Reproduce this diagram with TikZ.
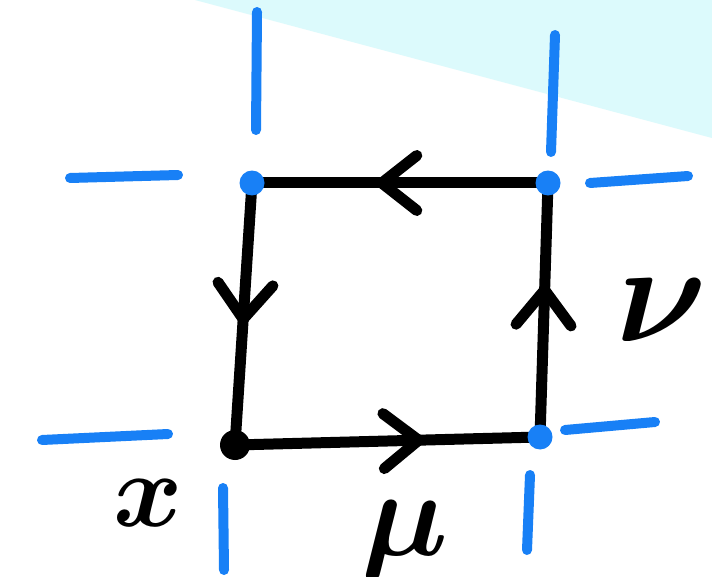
\documentclass[tikz,border=0pt]{standalone}
\usepackage{amsmath}
\usetikzlibrary{arrows.meta,decorations.markings}
\definecolor{stubblue}{RGB}{24,128,246}
\definecolor{skycyan}{RGB}{220,250,252}

\begin{document}
\begin{tikzpicture}[
  x=0.02cm, y=-0.02cm,
  stub/.style={draw=stubblue, line width=0.2cm, line cap=round},
  link/.style={draw, line width=0.22cm, line cap=round, postaction={decorate},
    decoration={markings, mark=at position #1 with
      {\arrow[line width=0.22cm]{Straight Barb[round,length=0.7cm,width=1.1cm]}}}},
  site/.style={circle, fill=stubblue, inner sep=0pt, minimum size=0.5cm},
  lbl/.style={font=\boldmath, inner sep=0pt, scale=#1},
  lbl/.default=6
]
  % background
  \useasboundingbox (0,0) rectangle (712,577);
  \fill[white] (0,0) rectangle (712,577);
  \fill[skycyan] (195,0) -- (712,0) -- (712,138) -- cycle;

  % corners of the plaquette
  \coordinate (TL) at (252,183);
  \coordinate (TR) at (548,183);
  \coordinate (BR) at (540,437);
  \coordinate (BL) at (235,445);

  % lattice stubs
  \foreach \xa/\ya/\xb/\yb in {257/12/256/130, 555/35/551/152, 70/178/178/175,
                               590/183/688/176, 42/440/168/434, 565/430/655/422,
                               223/488/224/570, 530/475/527/550}
    \draw[stub] (\xa,\ya) -- (\xb,\yb);

  % links
  \draw[link=0.62] (BL) -- (BR);
  \draw[link=0.6]  (BR) -- (TR);
  \draw[link=0.58] (TR) -- (TL);
  \draw[link=0.54] (TL) -- (BL);

  % sites
  \node[site] (sTL) at (TL) {};
  \node[site] (sTR) at (TR) {};
  \node[site] (sBR) at (BR) {};
  \node[site, fill=black, minimum size=0.6cm] (sBL) at (BL) {};

  % labels
  \node[lbl] (xlab)  at (148,503) {$x$};
  \node[lbl=7] (mulab) at (405,540) {$\mu$};
  \node[lbl=8] (nulab) at (662,310) {$\nu$};
\end{tikzpicture}
\end{document}
